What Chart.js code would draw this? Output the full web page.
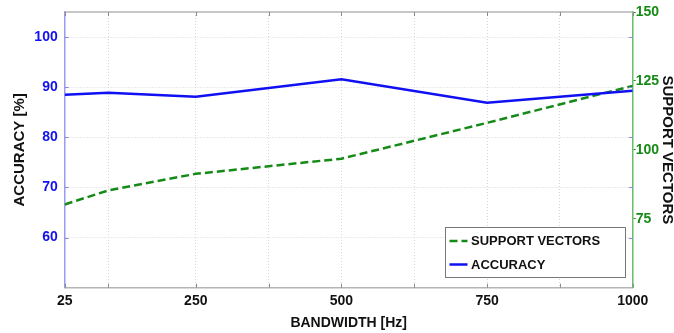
<!DOCTYPE html>
<html>
<head>
<meta charset="utf-8">
<title>Accuracy and support vectors vs bandwidth</title>
<script src="https://cdn.jsdelivr.net/npm/chart.js@4.4.1/dist/chart.umd.min.js"></script>
<style>
  body { margin: 0; background: #fff; }
  canvas { display: block; }
</style>
</head>
<body>
<canvas id="bwChart" width="674" height="333"></canvas>
<script>
// values
const bandwidths = [25, 100, 250, 500, 750, 1000];
const accuracy = [88.5, 88.9, 88.1, 91.6, 86.9, 89.3];
const supportVectors = [80.2, 85.3, 91.3, 96.8, 109.8, 123.2];

// ticks
const xGridTicks = [25, 100, 250, 375, 500, 625, 750, 875, 1000];
const xLabelTicks = [25, 250, 500, 750, 1000];
const accTicks = [60, 70, 80, 90, 100];
const svTicks = [75, 100, 125, 150];

const BLUE = "#1010f2";
const GREEN = "#168a16";
const FONT = "'Liberation Sans', Arial, sans-serif";

const ctx = document.getElementById("bwChart").getContext("2d");

function toPoints(ys) {
  return bandwidths.map((x, i) => ({ x: x, y: ys[i] }));
}

function fixTicks(list) {
  return scale => { scale.ticks = list.map(v => ({ value: v })); };
}

// size a scale and drop the extra room chart.js keeps for edge labels
function fitSize(prop, size) {
  return scale => {
    scale[prop] = size;
    scale.paddingTop = 0;
    scale.paddingBottom = 0;
    scale.paddingLeft = 0;
    scale.paddingRight = 0;
  };
}

// top border, inward tick marks and the boxed legend
const framePlugin = {
  id: "frame",
  afterDraw(chart) {
    const c = chart.ctx;
    const area = chart.chartArea;
    const xs = chart.scales.x;
    const ys = chart.scales.y;
    c.save();

    // top edge of the box
    c.strokeStyle = "#b4b4b4";
    c.lineWidth = 1.5;
    c.beginPath();
    c.moveTo(area.left, area.top);
    c.lineTo(area.right, area.top);
    c.stroke();

    // inward ticks top and bottom
    c.lineWidth = 1;
    c.strokeStyle = "#8c8c8c";
    xGridTicks.forEach(v => {
      const px = Math.round(xs.getPixelForValue(v)) + 0.5;
      c.beginPath();
      c.moveTo(px, area.top);
      c.lineTo(px, area.top + 4);
      c.moveTo(px, area.bottom);
      c.lineTo(px, area.bottom - 4);
      c.stroke();
    });

    // left axis ticks, both sides
    c.strokeStyle = "#8a8ae6";
    accTicks.forEach(v => {
      const py = Math.round(ys.getPixelForValue(v)) + 0.5;
      c.beginPath();
      c.moveTo(area.left, py);
      c.lineTo(area.left + 4, py);
      c.moveTo(area.right, py);
      c.lineTo(area.right - 4, py);
      c.stroke();
    });

    // legend
    const w = 180, h = 50;
    const bx = Math.round(area.right - 7.7 - w) + 0.5;
    const by = Math.round(area.bottom - 10.4 - h) + 0.5;
    c.fillStyle = "#fff";
    c.fillRect(bx, by, w, h);
    c.strokeStyle = "#777";
    c.lineWidth = 1;
    c.strokeRect(bx, by, w, h);

    c.font = "bold 13px " + FONT;
    c.textBaseline = "middle";
    c.fillStyle = "#111";
    const rows = [chart.data.datasets[1], chart.data.datasets[0]];
    rows.forEach((ds, i) => {
      const ry = by + 13.5 + i * 23.5;
      c.strokeStyle = ds.borderColor;
      c.lineWidth = 2.5;
      c.setLineDash(ds.borderDash || []);
      c.beginPath();
      c.moveTo(bx + 4, ry);
      c.lineTo(bx + 22, ry);
      c.stroke();
      c.setLineDash([]);
      c.fillText(ds.label, bx + 25.5, ry + 0.5);
    });
    c.restore();
  }
};

const bwChart = new Chart(ctx, {
  type: "line",
  data: {
    datasets: [
      {
        label: "ACCURACY",
        data: toPoints(accuracy),
        yAxisID: "y",
        borderColor: BLUE,
        borderWidth: 2.5,
        pointRadius: 0,
        tension: 0,
        order: 0
      },
      {
        label: "SUPPORT VECTORS",
        data: toPoints(supportVectors),
        yAxisID: "y1",
        borderColor: GREEN,
        borderWidth: 2.5,
        borderDash: [8, 4],
        pointRadius: 0,
        tension: 0,
        order: 1
      }
    ]
  },
  options: {
    responsive: false,
    animation: false,
    layout: { padding: { top: 12, left: 0, right: 0, bottom: 0 } },
    plugins: {
      legend: { display: false },
      tooltip: { enabled: false }
    },
    scales: {
      x: {
        type: "linear",
        min: 25,
        max: 1000,
        afterBuildTicks: fixTicks(xGridTicks),
        afterFit: fitSize("height", 45.3),
        grid: { color: "#d6d6d6", lineWidth: 1, drawTicks: false },
        border: { color: "#b4b4b4", width: 1.5, dash: [1, 2] },
        ticks: {
          autoSkip: false,
          maxRotation: 0,
          padding: 5,
          color: "#111",
          font: { family: FONT, size: 14, weight: "bold" },
          callback: v => (xLabelTicks.includes(v) ? String(v) : "")
        },
        title: {
          display: true,
          text: "BANDWIDTH [Hz]",
          color: "#111",
          padding: { top: 0, bottom: 1 },
          font: { family: FONT, size: 14, weight: "bold" }
        }
      },
      y: {
        position: "left",
        min: 50,
        max: 105,
        afterBuildTicks: fixTicks(accTicks),
        afterFit: fitSize("width", 64.7),
        grid: { color: "#d6d6d6", lineWidth: 1, drawTicks: false },
        border: { color: "#9a9af2", width: 1.5, dash: [1, 2] },
        ticks: {
          padding: 7,
          color: BLUE,
          font: { family: FONT, size: 14, weight: "bold" }
        },
        title: {
          display: true,
          text: "ACCURACY [%]",
          color: "#111",
          padding: { top: 11, bottom: 0 },
          font: { family: FONT, size: 15, weight: "bold" }
        }
      },
      y1: {
        position: "right",
        min: 50,
        max: 150,
        afterBuildTicks: fixTicks(svTicks),
        afterFit: fitSize("width", 41.3),
        grid: { drawOnChartArea: false, color: GREEN, tickLength: 3 },
        border: { color: "#6cbc6c", width: 1.5 },
        ticks: {
          padding: 0,
          color: GREEN,
          font: { family: FONT, size: 14, weight: "bold" }
        },
        title: {
          display: true,
          text: "SUPPORT VECTORS",
          color: "#111",
          padding: { top: -2.5, bottom: 0 },
          font: { family: FONT, size: 15, weight: "bold" }
        }
      }
    }
  },
  plugins: [framePlugin]
});
</script>
</body>
</html>
